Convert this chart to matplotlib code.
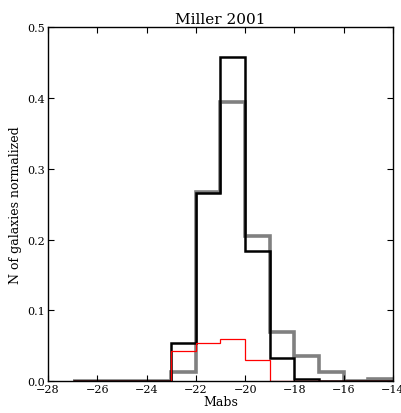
import matplotlib
matplotlib.use("Agg")
import matplotlib.pyplot as plt
import numpy as np

# bin edges, unit width in absolute magnitude
edges = np.arange(-27, -13, 1)

# normalized histograms
black_vals = [0, 0, 0, 0, 0.054, 0.266, 0.458, 0.184, 0.033, 0.003, 0, 0, 0]
gray_vals = [0, 0, 0, 0, 0.013, 0.267, 0.394, 0.205, 0.069, 0.035, 0.013, 0, 0.003]
red_vals = [0, 0, 0, 0, 0.043, 0.054, 0.060, 0.030, 0, 0, 0, 0, 0]

plt.rcParams['font.family'] = 'DejaVu Serif'
plt.rcParams['xtick.direction'] = 'in'
plt.rcParams['ytick.direction'] = 'in'

fig = plt.figure(figsize=(4.02, 4.14), dpi=100)
ax = fig.add_axes([0.119, 0.077, 0.859, 0.855])

ax.stairs(gray_vals, edges, color='gray', lw=2.6)
ax.stairs(black_vals, edges, color='black', lw=1.8)
ax.stairs(red_vals, edges, color='red', lw=0.9)

ax.set_xlim(-28, -14)
ax.set_ylim(0, 0.5)
ax.set_xticks(np.arange(-28, -13, 2))
ax.set_yticks(np.arange(0, 0.51, 0.1))
ax.tick_params(top=True, right=True, labelsize=8, length=4, pad=2)
for s in ax.spines.values():
    s.set_linewidth(1.0)

ax.set_xlabel('Mabs', fontsize=9, labelpad=1)
ax.set_ylabel('N of galaxies normalized', fontsize=9)
ax.set_title('Miller 2001', fontsize=11, pad=3)

fig.savefig('out.png', dpi=100)
